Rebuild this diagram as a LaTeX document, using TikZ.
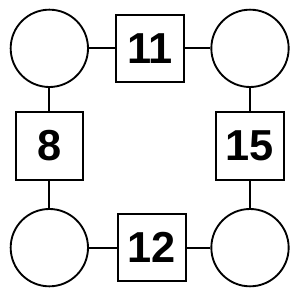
\documentclass[tikz,border=0pt]{standalone}
\usepackage{fontspec}
\setmainfont{Liberation Sans}
\usetikzlibrary{positioning}
\tikzset{
  kor/.style={draw,circle,line width=1.6pt,minimum size=2.32cm,inner sep=0pt},
  doboz/.style={draw,rectangle,line width=1.6pt,minimum size=2.02cm,inner sep=0pt,
                font=\fontsize{37}{37}\selectfont\bfseries},
  vonal/.style={line width=1.6pt},
}
\begin{document}
\begin{tikzpicture}
  \useasboundingbox (0,0) rectangle (9,9);
  % korok
  \node[kor] (bf) at (1.48,7.55) {};
  \node[kor] (jf) at (7.5,7.55) {};
  \node[kor] (ba) at (1.48,1.57) {};
  \node[kor] (ja) at (7.5,1.57) {};
  % dobozok
  \node[doboz] (fent) at (4.5,7.55) {11};
  \node[doboz] (bal) at (1.48,4.62) {8};
  \node[doboz] (jobb) at (7.5,4.62) {15};
  \node[doboz] (lent) at (4.56,1.57) {12};
  % osszekotes
  \draw[vonal] (bf) -- (fent); \draw[vonal] (fent) -- (jf);
  \draw[vonal] (bf) -- (bal); \draw[vonal] (bal) -- (ba);
  \draw[vonal] (jf) -- (jobb); \draw[vonal] (jobb) -- (ja);
  \draw[vonal] (ba) -- (lent); \draw[vonal] (lent) -- (ja);
\end{tikzpicture}
\end{document}
